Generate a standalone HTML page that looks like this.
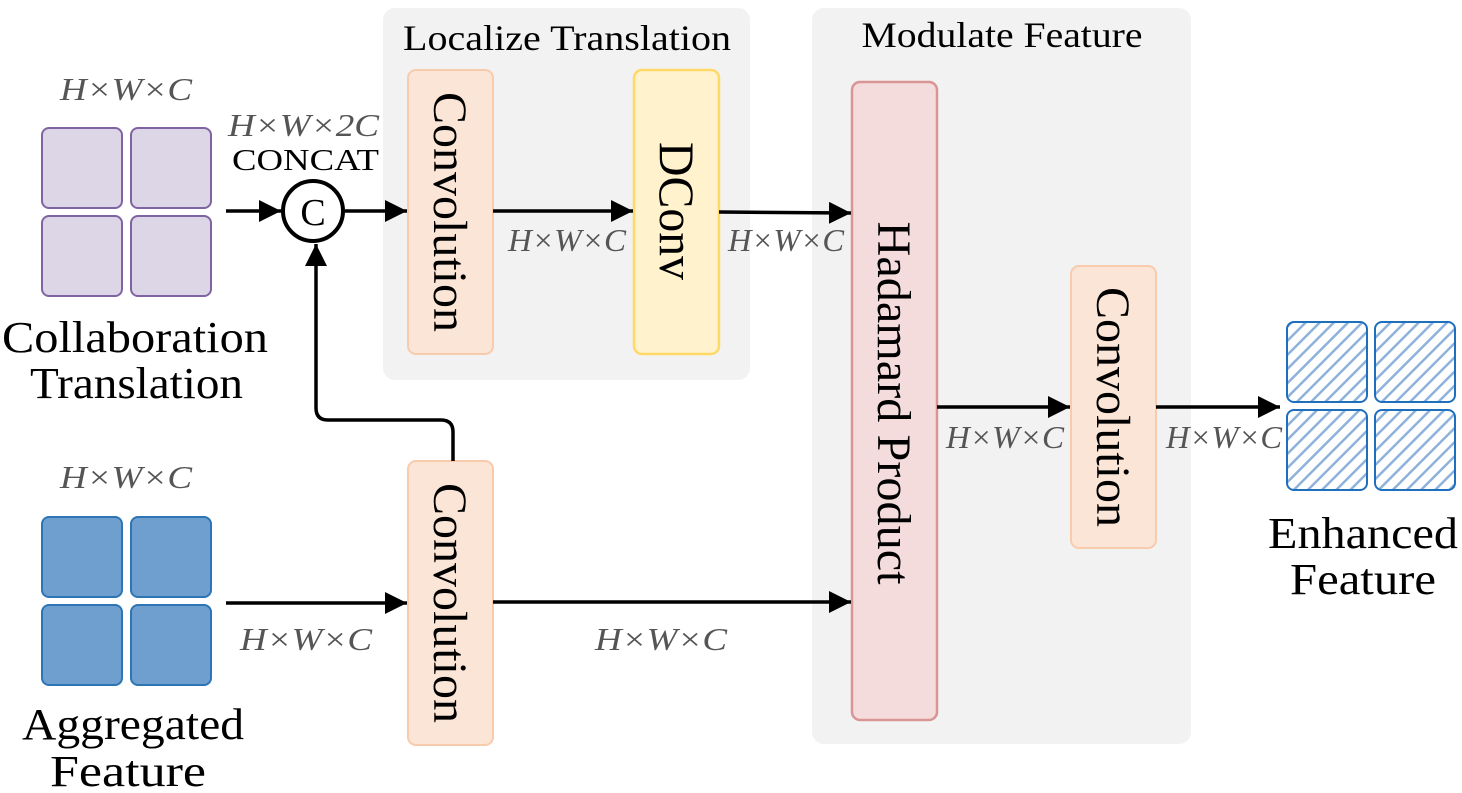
<!DOCTYPE html>
<html><head><meta charset="utf-8"><style>
html,body{margin:0;padding:0;background:#fff;}
svg{display:block;}
.s{font-family:"Liberation Serif",serif;fill:#000;}
.m{font-family:"Liberation Serif",serif;font-style:italic;fill:#555;font-size:32px;}
</style></head><body>
<svg width="1462" height="793" viewBox="0 0 1462 793" xmlns="http://www.w3.org/2000/svg">
<defs>
<marker id="b" viewBox="0 0 10 10" refX="10" refY="5" markerWidth="22" markerHeight="22" orient="auto" markerUnits="userSpaceOnUse"><path d="M0,0 L10,5 L0,10 z" fill="#000"/></marker>
<pattern id="h" width="10" height="10" patternUnits="userSpaceOnUse" patternTransform="rotate(-45)">
<rect width="10" height="10" fill="#fff"/><rect x="0" y="0" width="10" height="2.5" fill="#8fb2dc"/></pattern>
</defs>
<rect x="383" y="8" width="367" height="372" rx="12" fill="#f2f2f2"/>
<rect x="812" y="8" width="379" height="736" rx="12" fill="#f2f2f2"/>
<text class="s" x="567" y="50" font-size="36" text-anchor="middle" textLength="328" lengthAdjust="spacingAndGlyphs">Localize Translation</text>
<text class="s" x="1002" y="47" font-size="36" text-anchor="middle" textLength="281" lengthAdjust="spacingAndGlyphs">Modulate Feature</text>
<g fill="#dcd6e6" stroke="#8064a2" stroke-width="2">
<rect x="42" y="128" width="80" height="80" rx="7"/><rect x="131" y="128" width="80" height="80" rx="7"/>
<rect x="42" y="216" width="80" height="80" rx="7"/><rect x="131" y="216" width="80" height="80" rx="7"/>
</g>
<g fill="#6f9fcf" stroke="#2e75b6" stroke-width="2">
<rect x="42" y="517" width="80" height="80" rx="7"/><rect x="131" y="517" width="80" height="80" rx="7"/>
<rect x="42" y="605" width="80" height="80" rx="7"/><rect x="131" y="605" width="80" height="80" rx="7"/>
</g>
<g fill="url(#h)" stroke="#1f6fbf" stroke-width="2">
<rect x="1287" y="322" width="80" height="80" rx="7"/><rect x="1375" y="322" width="80" height="80" rx="7"/>
<rect x="1287" y="410" width="80" height="80" rx="7"/><rect x="1375" y="410" width="80" height="80" rx="7"/>
</g>
<rect x="408" y="70" width="85" height="284" rx="8" fill="#fbe5d6" stroke="#f8cbad" stroke-width="2"/>
<rect x="634" y="70" width="85" height="284" rx="8" fill="#fff2cc" stroke="#ffd966" stroke-width="2.5"/>
<rect x="852" y="82" width="85" height="638" rx="8" fill="#f4dbdc" stroke="#d99594" stroke-width="2.5"/>
<rect x="1071" y="266" width="85" height="282" rx="8" fill="#fbe5d6" stroke="#f8cbad" stroke-width="2"/>
<rect x="408" y="461" width="85" height="284" rx="8" fill="#fbe5d6" stroke="#f8cbad" stroke-width="2"/>
<g class="s" font-size="48">
<text transform="translate(434,212) rotate(90)" text-anchor="middle" textLength="240" lengthAdjust="spacingAndGlyphs">Convolution</text>
<text transform="translate(660,211) rotate(90)" text-anchor="middle" font-size="50" textLength="138" lengthAdjust="spacingAndGlyphs">DConv</text>
<text transform="translate(878,403) rotate(90)" text-anchor="middle" textLength="363" lengthAdjust="spacingAndGlyphs">Hadamard Product</text>
<text transform="translate(1097,407) rotate(90)" text-anchor="middle" textLength="240" lengthAdjust="spacingAndGlyphs">Convolution</text>
<text transform="translate(434,603) rotate(90)" text-anchor="middle" textLength="240" lengthAdjust="spacingAndGlyphs">Convolution</text>
</g>
<circle cx="313" cy="211" r="30" fill="#fff" stroke="#000" stroke-width="4"/>
<text class="s" x="313" y="225" font-size="38" text-anchor="middle">C</text>
<g stroke="#000" stroke-width="3.5" fill="none" marker-end="url(#b)">
<line x1="226" y1="211" x2="281" y2="211"/>
<line x1="345" y1="211" x2="407" y2="211"/>
<line x1="493" y1="211" x2="633" y2="211"/>
<line x1="719" y1="212" x2="851" y2="213"/>
<path d="M453,461 V432 Q453,420 441,420 H328 Q316,420 316,408 V244"/>
<line x1="226" y1="603" x2="407" y2="603"/>
<line x1="493" y1="602" x2="851" y2="602"/>
<line x1="937" y1="407" x2="1070" y2="407"/>
<line x1="1156" y1="407" x2="1280" y2="407"/>
</g>
<text class="m" x="60" y="100" textLength="132" lengthAdjust="spacingAndGlyphs">H×W×C</text>
<text class="m" x="228" y="136" textLength="151" lengthAdjust="spacingAndGlyphs">H×W×2C</text>
<text class="s" x="232" y="170" font-size="31" textLength="147" lengthAdjust="spacingAndGlyphs">CONCAT</text>
<text class="s" x="2" y="352" font-size="44" textLength="266" lengthAdjust="spacingAndGlyphs">Collaboration</text>
<text class="s" x="30" y="398" font-size="44" textLength="213" lengthAdjust="spacingAndGlyphs">Translation</text>
<text class="m" x="60" y="488" textLength="132" lengthAdjust="spacingAndGlyphs">H×W×C</text>
<text class="s" x="22" y="739" font-size="44" textLength="222" lengthAdjust="spacingAndGlyphs">Aggregated</text>
<text class="s" x="50" y="786" font-size="44" textLength="156" lengthAdjust="spacingAndGlyphs">Feature</text>
<text class="m" x="240" y="650" textLength="132" lengthAdjust="spacingAndGlyphs">H×W×C</text>
<text class="m" x="508" y="251" font-size="28" textLength="118" lengthAdjust="spacingAndGlyphs">H×W×C</text>
<text class="m" x="728" y="251" font-size="28" textLength="116" lengthAdjust="spacingAndGlyphs">H×W×C</text>
<text class="m" x="595" y="650" textLength="132" lengthAdjust="spacingAndGlyphs">H×W×C</text>
<text class="m" x="946" y="448" font-size="28" textLength="118" lengthAdjust="spacingAndGlyphs">H×W×C</text>
<text class="m" x="1166" y="448" font-size="28" textLength="116" lengthAdjust="spacingAndGlyphs">H×W×C</text>
<text class="s" x="1268" y="548" font-size="44" textLength="190" lengthAdjust="spacingAndGlyphs">Enhanced</text>
<text class="s" x="1290" y="594" font-size="44" textLength="146" lengthAdjust="spacingAndGlyphs">Feature</text>
</svg>
</body></html>
